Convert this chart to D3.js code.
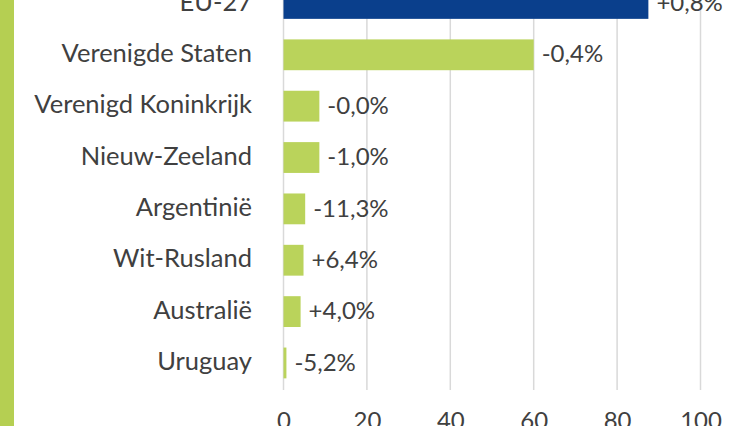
<!DOCTYPE html>
<html>
<head>
<meta charset="utf-8">
<script src="https://cdn.jsdelivr.net/npm/d3@7"></script>
<style>
  html, body { margin: 0; padding: 0; background: #ffffff; }
  svg { display: block; }
  text { font-family: Lato, "Open Sans", sans-serif; fill: #404040; }
</style>
</head>
<body>
<svg id="chart" width="748" height="426"></svg>
<script>
// ---- data ----
const categories = ["EU-27", "Verenigde Staten", "Verenigd Koninkrijk", "Nieuw-Zeeland",
                    "Argentinië", "Wit-Rusland", "Australië", "Uruguay"];
const values = [87.5, 60, 8.6, 8.6, 5.2, 4.8, 4.1, 0.7];
const changeLabels = ["+0,8%", "-0,4%", "-0,0%", "-1,0%", "-11,3%", "+6,4%", "+4,0%", "-5,2%"];
const tickValues = [0, 20, 40, 60, 80, 100];
const highlight = "EU-27";

const W = 748, H = 426;
const svg = d3.select("#chart");

const x = d3.scaleLinear().domain([0, 100]).range([283.5, 700.5]);
const y = d3.scaleBand().domain(categories).range([-24.8, 391.2])
  .paddingInner(0.4).paddingOuter(0.25);

// left green stripe
svg.append("rect").attr("x", 0).attr("y", 0).attr("width", 14).attr("height", H)
  .attr("fill", "#b5cf52");

// gridlines
svg.append("g").selectAll("line").data(tickValues).join("line")
  .attr("x1", d => x(d)).attr("x2", d => x(d))
  .attr("y1", 0).attr("y2", 390)
  .attr("stroke", "#d9d9d9").attr("stroke-width", 1.5);

const data = categories.map((c, i) => ({ c, v: values[i], lab: changeLabels[i] }));

// bars
svg.append("g").selectAll("rect").data(data).join("rect")
  .attr("x", x(0))
  .attr("y", d => y(d.c))
  .attr("width", d => x(d.v) - x(0))
  .attr("height", y.bandwidth())
  .attr("fill", d => d.c === highlight ? "#0a3f8c" : "#bad35b");

// category labels
svg.append("g").selectAll("text").data(data).join("text")
  .attr("x", 252)
  .attr("y", d => y(d.c) + y.bandwidth() / 2)
  .attr("dy", "0.28em")
  .attr("text-anchor", "end")
  .attr("font-size", 25.5)
  .attr("fill", "#454545")
  .text(d => d.c);

// value labels
svg.append("g").selectAll("text").data(data).join("text")
  .attr("x", d => x(d.v) + 8)
  .attr("y", d => y(d.c) + y.bandwidth() / 2)
  .attr("dy", "0.32em")
  .attr("font-size", 24)
  .attr("fill", "#454545")
  .text(d => d.lab);

// x axis tick labels
const xAxis = d3.axisBottom(x).tickValues(tickValues).tickSize(0).tickPadding(0)
  .tickFormat(d3.format("d"));
const ax = svg.append("g").attr("transform", "translate(0,412)").call(xAxis);
ax.select(".domain").remove();
ax.selectAll("text")
  .attr("font-size", 24)
  .attr("dy", "0.72em")
  .style("font-family", "Lato, 'Open Sans', sans-serif")
  .attr("fill", "#454545");
</script>
</body>
</html>
